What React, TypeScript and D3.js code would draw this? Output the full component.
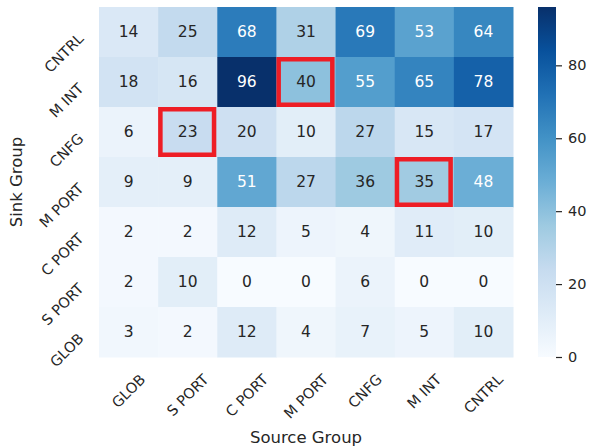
import React, { useRef, useEffect } from 'react';
import * as d3 from 'd3';

const sourceGroups = ["GLOB", "S PORT", "C PORT", "M PORT", "CNFG", "M INT", "CNTRL"];
const sinkGroups = ["CNTRL", "M INT", "CNFG", "M PORT", "C PORT", "S PORT", "GLOB"];

// one row per sink group, columns follow sourceGroups
const counts = [
  [14, 25, 68, 31, 69, 53, 64],
  [18, 16, 96, 40, 55, 65, 78],
  [6, 23, 20, 10, 27, 15, 17],
  [9, 9, 51, 27, 36, 35, 48],
  [2, 2, 12, 5, 4, 11, 10],
  [2, 10, 0, 0, 6, 0, 0],
  [3, 2, 12, 4, 7, 5, 10],
];

// [sink, source] cells outlined in red
const highlighted = [
  ["M INT", "M PORT"],
  ["CNFG", "S PORT"],
  ["M PORT", "M INT"],
];

const colorbarTicks = [0, 20, 40, 60, 80];

// matplotlib "Blues" stops
const bluesStops = ["#f7fbff", "#deebf7", "#c6dbef", "#9ecae1", "#6baed6", "#4292c6", "#2171b5", "#08519c", "#08306b"];

const FONT = "DejaVu Sans, sans-serif";
const INK = "#262626";

const luminance = (c: string) => {
  const rgb = d3.rgb(c);
  const lin = [rgb.r, rgb.g, rgb.b].map(v => {
    const s = v / 255;
    return s <= 0.03928 ? s / 12.92 : Math.pow((s + 0.055) / 1.055, 2.4);
  });
  return 0.2126 * lin[0] + 0.7152 * lin[1] + 0.0722 * lin[2];
};

const App: React.FC = () => {
  const svgRef = useRef<SVGSVGElement>(null);

  useEffect(() => {
    document.body.style.margin = "0";
    if (!svgRef.current) return;
    const svg = d3.select(svgRef.current);
    svg.selectAll("*").remove();

    const width = 590;
    const height = 448;
    const plot = { left: 99, right: 513, top: 7, bottom: 357 };

    const vmax = d3.max(counts.flat()) || 1;
    const color = d3.scaleLinear<string>()
      .domain(bluesStops.map((_, i) => (i / (bluesStops.length - 1)) * vmax))
      .range(bluesStops)
      .interpolate(d3.interpolateRgb)
      .clamp(true);

    const x = d3.scaleBand().domain(sourceGroups).range([plot.left, plot.right]);
    const y = d3.scaleBand().domain(sinkGroups).range([plot.top, plot.bottom]);

    const cells = sinkGroups.flatMap((sink, r) =>
      sourceGroups.map((source, c) => ({ sink, source, value: counts[r][c] }))
    );

    const g = svg.append("g");

    g.selectAll("rect.cell")
      .data(cells)
      .enter()
      .append("rect")
      .attr("class", "cell")
      .attr("x", d => x(d.source) || 0)
      .attr("y", d => y(d.sink) || 0)
      .attr("width", x.bandwidth() + 0.5)
      .attr("height", y.bandwidth() + 0.5)
      .attr("fill", d => color(d.value));

    g.selectAll("text.annot")
      .data(cells)
      .enter()
      .append("text")
      .attr("class", "annot")
      .attr("x", d => (x(d.source) || 0) + x.bandwidth() / 2)
      .attr("y", d => (y(d.sink) || 0) + y.bandwidth() / 2)
      .attr("text-anchor", "middle")
      .attr("dominant-baseline", "central")
      .attr("font-family", FONT)
      .attr("font-size", 15.5)
      .attr("fill", d => (luminance(color(d.value)) > 0.408 ? INK : "#ffffff"))
      .text(d => d.value);

    // red outlines
    const sw = 4.5;
    g.selectAll("rect.hl")
      .data(highlighted)
      .enter()
      .append("rect")
      .attr("class", "hl")
      .attr("x", d => (x(d[1]) || 0) + sw / 2)
      .attr("y", d => (y(d[0]) || 0) + sw / 2)
      .attr("width", x.bandwidth() - sw - 1)
      .attr("height", y.bandwidth() - sw)
      .attr("fill", "none")
      .attr("stroke", "#ee1d25")
      .attr("stroke-width", sw);

    // x tick labels, rotated 45°, centred under each column
    const xLabels = g.selectAll("text.xl")
      .data(sourceGroups)
      .enter()
      .append("text")
      .attr("class", "xl")
      .attr("font-family", FONT)
      .attr("font-size", 14.5)
      .attr("fill", INK)
      .attr("text-anchor", "middle")
      .attr("dominant-baseline", "central")
      .text(d => d);
    const labelH = 14.5 * 0.95;
    xLabels.each(function (d) {
      const el = this as SVGTextElement;
      const L = el.getComputedTextLength();
      const cx = (x(d) || 0) + x.bandwidth() / 2;
      const cy = plot.top + (plot.bottom - plot.top) + 15 + ((L + labelH) * Math.SQRT1_2) / 2;
      d3.select(el).attr("transform", `translate(${cx},${cy}) rotate(-45)`);
    });

    // y tick labels, rotated 45°, right aligned
    g.selectAll("text.yl")
      .data(sinkGroups)
      .enter()
      .append("text")
      .attr("class", "yl")
      .attr("font-family", FONT)
      .attr("font-size", 14.5)
      .attr("fill", INK)
      .attr("text-anchor", "end")
      .attr("dominant-baseline", "central")
      .attr("transform", d => `translate(${plot.left - 18},${(y(d) || 0) + y.bandwidth() / 2 + 4}) rotate(-45)`)
      .text(d => d);

    // axis titles
    g.append("text")
      .attr("x", (plot.left + plot.right) / 2)
      .attr("y", 443)
      .attr("text-anchor", "middle")
      .attr("font-family", FONT)
      .attr("font-size", 16.5)
      .attr("fill", INK)
      .text("Source Group");

    g.append("text")
      .attr("transform", `translate(22,${(plot.top + plot.bottom) / 2}) rotate(-90)`)
      .attr("text-anchor", "middle")
      .attr("font-family", FONT)
      .attr("font-size", 16.5)
      .attr("fill", INK)
      .text("Sink Group");

    // colorbar
    const cb = { x: 538, w: 18 };
    const cbScale = d3.scaleLinear().domain([0, vmax]).range([plot.bottom, plot.top]);
    const grad = svg.append("defs").append("linearGradient")
      .attr("id", "cbGrad")
      .attr("x1", 0).attr("y1", 1).attr("x2", 0).attr("y2", 0);
    grad.selectAll("stop")
      .data(bluesStops)
      .enter()
      .append("stop")
      .attr("offset", (_, i) => i / (bluesStops.length - 1))
      .attr("stop-color", d => d);

    g.append("rect")
      .attr("x", cb.x)
      .attr("y", plot.top)
      .attr("width", cb.w)
      .attr("height", plot.bottom - plot.top)
      .attr("fill", "url(#cbGrad)");

    const cbAxis = g.append("g")
      .attr("transform", `translate(${cb.x + cb.w},0)`)
      .call(d3.axisRight(cbScale).tickValues(colorbarTicks).tickSize(6).tickPadding(6));
    cbAxis.select(".domain").remove();
    cbAxis.selectAll(".tick line").attr("stroke", INK).attr("stroke-width", 1.2);
    cbAxis.selectAll(".tick text")
      .attr("font-family", FONT)
      .attr("font-size", 14.5)
      .attr("fill", INK);

    svg.attr("width", width).attr("height", height);
  }, []);

  return <svg ref={svgRef} width={590} height={448} style={{ display: "block", background: "#ffffff" }} />;
};

export default App;
